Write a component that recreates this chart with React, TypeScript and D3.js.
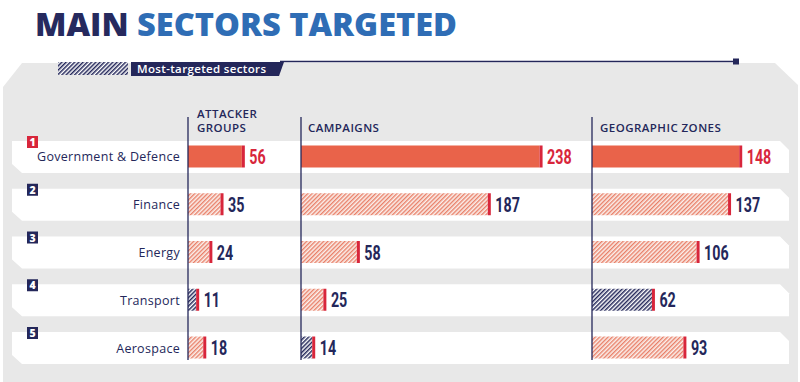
import React from "react";
import * as d3 from "d3";

const sectors = ["Government & Defence", "Finance", "Energy", "Transport", "Aerospace"];
const ranks = ["1", "2", "3", "4", "5"];
const columns = ["ATTACKER GROUPS", "CAMPAIGNS", "GEOGRAPHIC ZONES"];
const attackerGroups = [56, 35, 24, 11, 18];
const campaigns = [238, 187, 58, 25, 14];
const geographicZones = [148, 137, 106, 62, 93];
const seriesValues = [attackerGroups, campaigns, geographicZones];
// cells drawn in navy hatch: [column, row]
const navyCells = [[0, 3], [1, 4], [2, 3]];

const W = 800;
const H = 382;
const NAVY = "#24275a";
const RED = "#d8263b";
const ORANGE = "#e9634a";
const GRAY = "#e8e8e8";
const colX = [188, 301, 592];

export default function App() {
  React.useEffect(() => {
    document.body.style.margin = "0";
  }, []);

  const y = d3.scaleBand<string>().domain(sectors).range([141, 364]).paddingInner(0.33).paddingOuter(0);
  const x = d3.scaleLinear().domain([0, 240]).range([0, 243.6]);
  const bw = y.bandwidth();
  const barH = 22;
  const isNavy = (c: number, r: number) => navyCells.some(([a, b]) => a === c && b === r);
  const valueFont = "Roboto, 'Liberation Sans', sans-serif";
  const labelFont = "'Open Sans', 'Noto Sans', sans-serif";
  const headStyle = { letterSpacing: "0.45px" };

  return (
    <svg width={W} height={H} style={{ position: "absolute", left: 0, top: 0, background: "#fff" }}>
      <defs>
        <pattern id="hatchSalmon" width="3" height="3" patternUnits="userSpaceOnUse" patternTransform="rotate(45)">
          <rect width="3" height="3" fill="#fbf0ec" />
          <rect width="1.4" height="3" fill="#e98069" />
        </pattern>
        <pattern id="hatchNavy" width="3" height="3" patternUnits="userSpaceOnUse" patternTransform="rotate(45)">
          <rect width="3" height="3" fill="#ffffff" />
          <rect width="1.5" height="3" fill={NAVY} />
        </pattern>
      </defs>

      {/* Title */}
      <text x={35} y={36} fontFamily={"'Open Sans', sans-serif"} fontWeight={800} fontSize={31}
        textLength={422} lengthAdjust="spacingAndGlyphs">
        <tspan fill="#262a5e">MAIN </tspan>
        <tspan fill="#2f6db5">SECTORS TARGETED</tspan>
      </text>

      {/* Gray panel */}
      <path d={`M22,63 L775,63 L798,85 L798,${H} L3,${H} L3,87 Z`} fill={GRAY} />

      {/* Legend */}
      <line x1={280} y1={61.5} x2={736} y2={61.5} stroke={NAVY} strokeWidth={1.5} />
      <rect x={733} y={58.5} width={6} height={6} fill={NAVY} />
      <rect x={58} y={62} width={70} height={13} fill="url(#hatchNavy)" />
      <path d="M131,62 L284,62 L279,76 L131,76 Z" fill={NAVY} />
      <text x={137} y={73} fill="#fff" fontFamily={labelFont} fontWeight={600} fontSize={11.5}
        style={{ letterSpacing: "0.35px" }}>
        Most-targeted sectors
      </text>

      {/* Row bands */}
      {sectors.map((s) => {
        const t = y(s)!;
        const b = t + bw;
        return (
          <path key={"band" + s}
            d={`M12,${t} L780,${t} L789,${t + 9} L789,${b} L22,${b} L12,${b - 9} Z`}
            fill="#fff" />
        );
      })}

      {/* Column headers */}
      <text x={197} y={117.5} fill={NAVY} fontFamily={labelFont} fontWeight={600} fontSize={11.5} style={headStyle}>ATTACKER</text>
      <text x={197} y={131.5} fill={NAVY} fontFamily={labelFont} fontWeight={600} fontSize={11.5} style={headStyle}>GROUPS</text>
      <text x={308} y={131.5} fill={NAVY} fontFamily={labelFont} fontWeight={600} fontSize={11.5} style={headStyle}>{columns[1]}</text>
      <text x={600} y={131.5} fill={NAVY} fontFamily={labelFont} fontWeight={600} fontSize={11.5} style={headStyle}>{columns[2]}</text>

      {/* Badges and sector labels */}
      {sectors.map((s, i) => {
        const t = y(s)!;
        return (
          <g key={"lab" + s}>
            <rect x={27} y={t - 5} width={11} height={12} fill={i === 0 ? RED : NAVY} />
            <text x={32.5} y={t + 5} textAnchor="middle" fill="#fff" fontFamily={labelFont}
              fontWeight={800} fontSize={10.5}>{ranks[i]}</text>
            <text x={180} y={t + bw / 2 + 4.5} textAnchor="end" fill={NAVY} fontFamily={labelFont}
              fontWeight={500} fontSize={12.5} style={{ letterSpacing: "0.3px" }}>{s}</text>
          </g>
        );
      })}

      {/* Bars */}
      {seriesValues.map((vals, c) => (
        <g key={"col" + c} transform={`translate(${colX[c]},0)`}>
          {vals.map((v, r) => {
            const t = y(sectors[r])! + (bw - barH) / 2 - 0.5;
            const w = x(v);
            const fill = r === 0 ? ORANGE : isNavy(c, r) ? "url(#hatchNavy)" : "url(#hatchSalmon)";
            return (
              <g key={"bar" + r}>
                <rect x={0} y={t} width={w - 3} height={barH} fill={fill} />
                <rect x={w - 3} y={t} width={3} height={barH} fill={RED} />
                <g transform={`translate(${w + 4.5},${t + barH - 3.5}) scale(0.68,1)`}>
                  <text x={0} y={0} fill={r === 0 ? RED : NAVY} fontFamily={valueFont}
                    fontWeight={700} fontSize={21}>{v}</text>
                </g>
              </g>
            );
          })}
        </g>
      ))}

      {/* Axis lines */}
      {colX.map((cx) => (
        <line key={"ax" + cx} x1={cx} y1={117} x2={cx} y2={360} stroke={NAVY} strokeWidth={1.3} />
      ))}
    </svg>
  );
}
